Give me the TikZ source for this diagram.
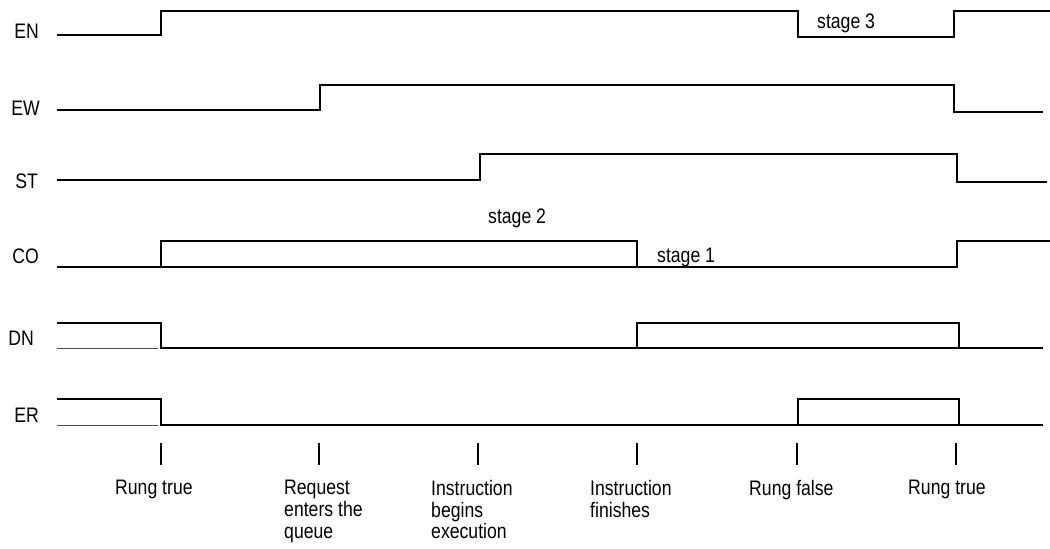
\documentclass[tikz,border=0pt]{standalone}
\usepackage{fontspec}
\setmainfont[FakeStretch=0.84]{Liberation Sans}
\begin{document}
\begin{tikzpicture}[x=1pt,y=-1pt,
  sig/.style={line width=2.2pt,line join=miter,black},
  thin/.style={line width=1pt,black!70},
  tick/.style={line width=2.2pt},
  txt/.style={inner sep=0pt,font=\fontsize{21}{21.7}\selectfont},
  sname/.style={txt,anchor=base east},
  evt/.style={txt,anchor=north west,align=left},
  stg/.style={txt,anchor=base west}]
\useasboundingbox (0,0) rectangle (1050,549);
% signal names
\node[sname] (nEN) at (39,38) {EN};
\node[sname] (nEW) at (40,115) {EW};
\node[sname] (nST) at (38,188) {ST};
\node[sname] (nCO) at (39,263) {CO};
\node[sname] (nDN) at (34,345) {DN};
\node[sname] (nER) at (39,422) {ER};
% EN
\draw[sig] (57,35) -- (161,35) -- (161,11) -- (798,11) -- (798,37) -- (954,37) -- (954,11) -- (1050,11);
% EW
\draw[sig] (57,110) -- (320,110) -- (320,85) -- (954,85) -- (954,112) -- (1043,112);
% ST
\draw[sig] (57,180) -- (480,180) -- (480,154) -- (957,154) -- (957,182) -- (1047,182);
% CO
\draw[sig] (57,267) -- (957,267) -- (957,241) -- (1050,241);
\draw[sig] (161,267) -- (161,241) -- (637,241) -- (637,267);
% DN
\draw[thin] (57,348) -- (158,348);
\draw[sig] (57,323) -- (161,323) -- (161,348) -- (1043,348);
\draw[sig] (637,348) -- (637,323) -- (959,323) -- (959,348);
% ER
\draw[thin] (57,425) -- (158,425);
\draw[sig] (57,399) -- (161,399) -- (161,425) -- (1043,425);
\draw[sig] (798,425) -- (798,399) -- (959,399) -- (959,425);
% stage labels
\node[stg] (s3) at (817,28) {stage 3};
\node[stg] (s2) at (488,223) {stage 2};
\node[stg] (s1) at (657,262) {stage 1};
% event ticks
\foreach \x/\n in {161/a,319/b,478/c,637/d,797/e,956/f}{
  \coordinate (t\n) at (\x,443);
  \draw[tick] (t\n) -- ++(0,22);
}
% event labels
\node[evt] (e1) at (115,480) {Rung true};
\node[evt] (e2) at (284,480) {Request\\enters the\\queue};
\node[evt] (e3) at (431,480) {Instruction\\begins\\execution};
\node[evt] (e4) at (590,480) {Instruction\\finishes};
\node[evt] (e5) at (749,480) {Rung false};
\node[evt] (e6) at (908,480) {Rung true};
\end{tikzpicture}
\end{document}
